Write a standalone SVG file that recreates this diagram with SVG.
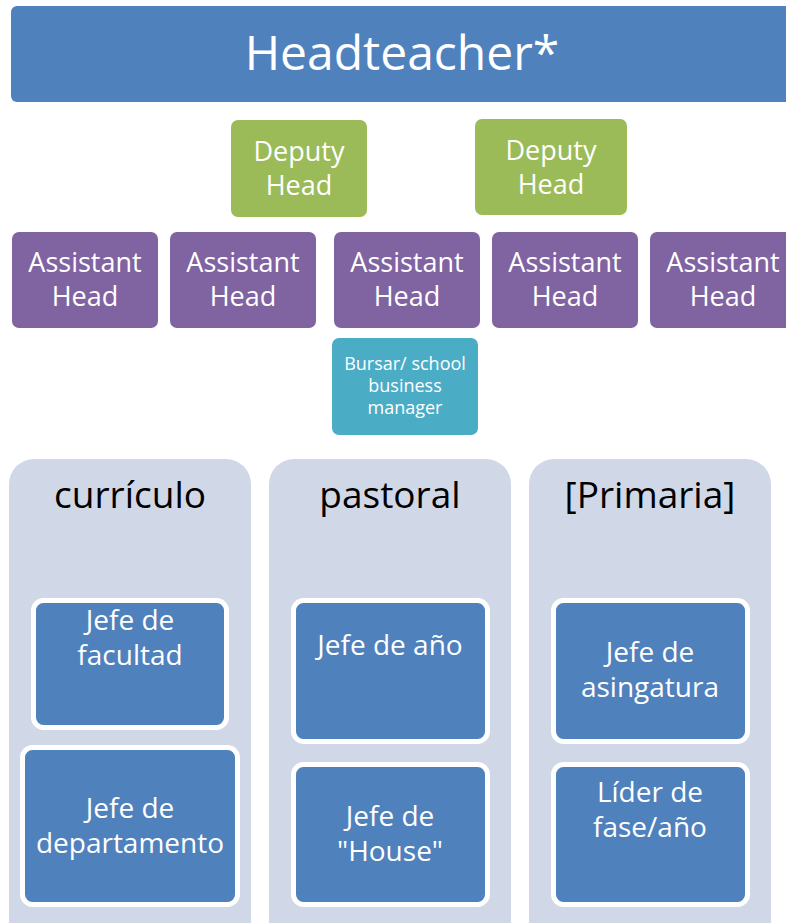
<svg xmlns="http://www.w3.org/2000/svg" width="786" height="923" viewBox="0 0 786 923">
<style>
text{font-family:"Open Sans","Noto Sans","DejaVu Sans",sans-serif;text-anchor:middle}
.w{fill:#ffffff}
.b{fill:#000000}
.head{fill:#4f81bd}
.dep{fill:#9bbb59}
.ast{fill:#8064a2}
.bur{fill:#4bacc6}
.pan{fill:#d0d8e8}
.inn{fill:#4f81bd;stroke:#ffffff;stroke-width:5}
.t27{font-size:27px}
.t28{font-size:28px}
.t18{font-size:18px}
.t37{font-size:37px}
</style>
<rect width="786" height="923" fill="#ffffff"/>
<g id="connectors"/>
<g id="headteacher">
<rect class="head" x="11" y="6" width="790" height="96" rx="6"/>
<text class="w" x="402" y="70" font-size="48">Headteacher*</text>
</g>
<g id="deputy1">
<rect class="dep" x="231" y="120" width="136" height="97" rx="7"/>
<text class="w t27" x="299" y="161">Deputy</text>
<text class="w t27" x="299" y="195">Head</text>
</g>
<g id="deputy2">
<rect class="dep" x="475" y="119" width="152" height="96" rx="7"/>
<text class="w t27" x="551" y="160">Deputy</text>
<text class="w t27" x="551" y="194">Head</text>
</g>
<g id="assistant1">
<rect class="ast" x="12" y="232" width="146" height="96" rx="7"/>
<text class="w t27" x="85" y="272">Assistant</text>
<text class="w t27" x="85" y="306">Head</text>
</g>
<g id="assistant2">
<rect class="ast" x="170" y="232" width="146" height="96" rx="7"/>
<text class="w t27" x="243" y="272">Assistant</text>
<text class="w t27" x="243" y="306">Head</text>
</g>
<g id="assistant3">
<rect class="ast" x="334" y="232" width="146" height="96" rx="7"/>
<text class="w t27" x="407" y="272">Assistant</text>
<text class="w t27" x="407" y="306">Head</text>
</g>
<g id="assistant4">
<rect class="ast" x="492" y="232" width="146" height="96" rx="7"/>
<text class="w t27" x="565" y="272">Assistant</text>
<text class="w t27" x="565" y="306">Head</text>
</g>
<g id="assistant5">
<rect class="ast" x="650" y="232" width="146" height="96" rx="7"/>
<text class="w t27" x="723" y="272">Assistant</text>
<text class="w t27" x="723" y="306">Head</text>
</g>
<g id="bursar">
<rect class="bur" x="332" y="338" width="146" height="97" rx="7"/>
<text class="w t18" x="405" y="370">Bursar/ school</text>
<text class="w t18" x="405" y="392">business</text>
<text class="w t18" x="405" y="414">manager</text>
</g>
<g id="curriculo">
<rect class="pan" x="9" y="459" width="242" height="490" rx="25"/>
<text class="b t37" x="130" y="508">currículo</text>
</g>
<g id="pastoral">
<rect class="pan" x="269" y="459" width="242" height="490" rx="25"/>
<text class="b t37" x="390" y="508">pastoral</text>
</g>
<g id="primaria">
<rect class="pan" x="529" y="459" width="242" height="490" rx="25"/>
<text class="b t37" x="650" y="508">[Primaria]</text>
</g>
<g id="jefe-facultad">
<rect class="inn" x="33.5" y="600.5" width="193" height="127" rx="10"/>
<text class="w t28" x="130" y="630">Jefe de</text>
<text class="w t28" x="130" y="665">facultad</text>
</g>
<g id="jefe-departamento">
<rect class="inn" x="22.5" y="747.5" width="215" height="157" rx="10"/>
<text class="w t28" x="130" y="818">Jefe de</text>
<text class="w t28" x="130" y="853">departamento</text>
</g>
<g id="jefe-ano">
<rect class="inn" x="293.5" y="600.5" width="194" height="141" rx="10"/>
<text class="w t28" x="390" y="655">Jefe de año</text>
</g>
<g id="jefe-house">
<rect class="inn" x="293.5" y="764.5" width="194" height="140" rx="10"/>
<text class="w t28" x="390" y="826">Jefe de</text>
<text class="w t28" x="390" y="861">"House"</text>
</g>
<g id="jefe-asignatura">
<rect class="inn" x="553.5" y="600.5" width="194" height="141" rx="10"/>
<text class="w t28" x="650" y="662">Jefe de</text>
<text class="w t28" x="650" y="697">asingatura</text>
</g>
<g id="lider-fase">
<rect class="inn" x="553.5" y="764.5" width="194" height="140" rx="10"/>
<text class="w t28" x="650" y="802">Líder de</text>
<text class="w t28" x="650" y="837">fase/año</text>
</g>
</svg>
